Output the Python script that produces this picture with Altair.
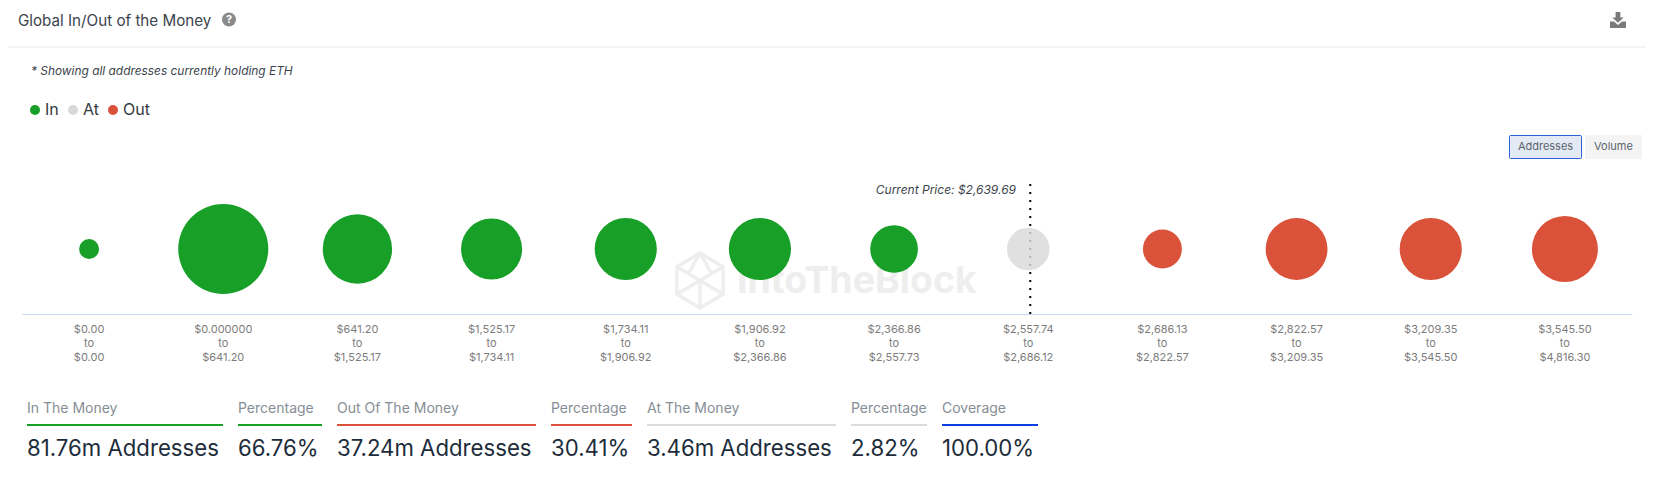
import altair as alt
import pandas as pd

lower = ["$0.00", "$0.000000", "$641.20", "$1,525.17", "$1,734.11", "$1,906.92",
         "$2,366.86", "$2,557.74", "$2,686.13", "$2,822.57", "$3,209.35", "$3,545.50"]
upper = ["$0.00", "$641.20", "$1,525.17", "$1,734.11", "$1,906.92", "$2,366.86",
         "$2,557.73", "$2,686.12", "$2,822.57", "$3,209.35", "$3,545.50", "$4,816.30"]
addresses_m = [1.21, 24.6, 14.6, 11.3, 11.7, 11.7, 6.9, 5.5, 4.6, 11.6, 11.7, 13.2]
zones = ["In"] * 7 + ["At"] + ["Out"] * 4

stat_labels = ["In The Money", "Percentage", "Out Of The Money", "Percentage",
               "At The Money", "Percentage", "Coverage"]
stat_values = ["81.76m Addresses", "66.76%", "37.24m Addresses", "30.41%",
               "3.46m Addresses", "2.82%", "100.00%"]

GREEN, GREY, RED, BLUE = "#179f27", "#d9d9d9", "#d95239", "#0f3fe0"
stat_colors = [GREEN, GREEN, RED, RED, "#dcdcdc", "#dcdcdc", BLUE]
stat_spans = [(27, 223), (238, 322), (337, 536), (551, 632), (647, 836), (851, 927), (942, 1038)]

FONT = "Inter"
OX, OY = 22, 8  # page position of the plot origin


def px(x):
    return alt.value(x - OX)


def py(y):
    return alt.value(y - OY)


labels = [f"{a}|to|{b}" for a, b in zip(lower, upper)]
df = pd.DataFrame({"range": labels, "addresses": addresses_m, "zone": zones})

x_scale = alt.Scale(type="band", domain=labels, paddingInner=0, paddingOuter=0)
x_axis = alt.Axis(
    title=None,
    labelExpr="split(datum.label, '|')",
    labelAngle=0,
    labelFont=FONT,
    labelFontSize=11,
    labelColor="#7c7c7c",
    labelLineHeight=14,
    labelPadding=9,
    labelBaseline="top",
    labelOverlap=False,
    labelFlush=False,
    ticks=False,
    grid=False,
    domainColor="#c8d7ee",
    domainWidth=1,
)
x_enc = alt.X("range:N", sort=None, scale=x_scale, axis=x_axis)


def text(t, x, y, size, color, align="left", style="normal", weight=400):
    return (
        alt.Chart(pd.DataFrame({"t": [t]}))
        .mark_text(font=FONT, fontSize=size, color=color, align=align, baseline="middle",
                   fontStyle=style, fontWeight=weight)
        .encode(x=px(x), y=py(y), text="t:N")
    )


def hline(x0, x1, y, color, w):
    return (
        alt.Chart(pd.DataFrame({"a": [0]}))
        .mark_rule(color=color, strokeWidth=w)
        .encode(x=px(x0), x2=px(x1), y=py(y))
    )


def glyph(shape, x, y, size, color, filled=True, sw=0):
    return (
        alt.Chart(pd.DataFrame({"a": [0]}))
        .mark_point(shape=shape, size=size, filled=filled, color=color, opacity=1, strokeWidth=sw)
        .encode(x=px(x), y=py(y))
    )


LOGO = ("M0 -1L.84 -.5L.84 .5L0 1L-.84 .5L-.84 -.5Z"
        "M-.84 -.5L.84 .5M.84 -.5L-.84 .5M0 0L0 1M0 -1L.42 -.25M0 -1L-.42 -.25")
DOWNLOAD = ("M-.3 -1H.3V-.3H.72L0 .35L-.72 -.3H-.3Z"
            "M-1 .2H-.5L0 .62L.5 .2H1V1H-1Z")

layers = [
    # header
    text("Global In/Out of the Money", 18, 21, 15.2, "#3b444d"),
    glyph("circle", 229, 19.5, 196, "#8a8a8a", True),
    text("?", 229, 20, 11, "#ffffff", "center", weight=700),
    glyph(DOWNLOAD, 1618, 20, 256, "#7a7a7a", True),
    hline(OX - 14, 1646, 47, "#ececec", 1),
    text("* Showing all addresses currently holding ETH", 31, 71, 11.9, "#3b444d", style="italic"),
    # buttons
    alt.Chart(pd.DataFrame({"a": [0]}))
    .mark_rect(fill="#e4eaf4", stroke="#2a62d9", strokeWidth=1, cornerRadius=1)
    .encode(x=px(1509.5), x2=px(1581.5), y=py(135.5), y2=py(158.5)),
    alt.Chart(pd.DataFrame({"a": [0]}))
    .mark_rect(fill="#f4f4f4")
    .encode(x=px(1585), x2=px(1642), y=py(135), y2=py(159)),
    text("Addresses", 1545.5, 147, 11, "#5a636d", "center"),
    text("Volume", 1613.5, 147, 11, "#5a636d", "center"),
    # watermark
    glyph(LOGO, 700, 280.5, 3025, "#eeeeee", False, 3.5),
    text("IntoTheBlock", 737, 282, 37.5, "#eeeeee", weight=700),
    # current price
    alt.Chart(pd.DataFrame({"a": [0]}))
    .mark_rule(color="#000000", strokeWidth=2, strokeDash=[2, 6], xOffset=2)
    .encode(x=alt.XDatum(labels[7], type="nominal", scale=x_scale, axis=x_axis), y=py(184), y2=py(314)),
    text("Current Price: $2,639.69", 1016, 190, 12, "#3b444d", "right", style="italic"),
    # bubbles
    alt.Chart(df)
    .mark_circle(opacity=1)
    .encode(
        x=x_enc,
        y=py(249),
        size=alt.Size(
            "addresses:Q",
            scale=alt.Scale(domain=[0, 25], range=[0, 8238]),
            legend=None,
        ),
        color=alt.Color(
            "zone:N",
            scale=alt.Scale(domain=["In", "At", "Out"], range=[GREEN, GREY, RED]),
            legend=alt.Legend(
                title=None,
                orient="none",
                legendX=5,
                legendY=94,
                direction="horizontal",
                columns=3,
                symbolType="circle",
                symbolSize=100,
                symbolStrokeWidth=0,
                symbolOpacity=1,
                labelFont=FONT,
                labelFontSize=16,
                labelColor="#333a40",
                labelOffset=2,
                columnPadding=6,
            ),
        ),
        opacity=alt.condition(alt.datum.zone == "At", alt.value(0.82), alt.value(1)),
    ),
]

for lab, val, col, (x0, x1) in zip(stat_labels, stat_values, stat_colors, stat_spans):
    layers.append(text(lab, x0, 409, 14, "#868e96"))
    layers.append(hline(x0, x1, 425, col, 2))
    layers.append(text(val, x0, 448.5, 22.2, "#1d2c3b"))

chart = (
    alt.layer(*layers)
    .properties(
        width=1610,
        height=306,
        autosize=alt.AutoSizeParams(type="none"),
        padding={"left": 14, "top": 0, "right": 14, "bottom": 167},
    )
    .configure_view(strokeWidth=0)
)

chart.save("out.html", embed_options={"renderer": "svg", "actions": False})
